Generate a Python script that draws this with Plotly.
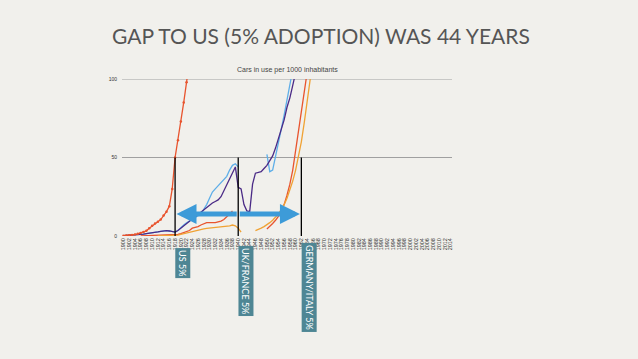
import plotly.graph_objects as go

# ---------------- data ----------------
tick_years = list(range(1900, 2015, 2))
tick_labels = [str(y) for y in tick_years]
y_ticks = [0, 50, 100]

us_years = list(range(1900, 1924))
us_vals = [0.2, 0.3, 0.5, 0.7, 1.0, 1.4, 1.9, 2.5, 3.3, 5.0, 6.5, 8.0, 9.0, 10.5,
           13.0, 15.5, 19.0, 30.0, 50.0, 61.0, 73.0, 85.0, 98.0, 112.0]

uk_years = list(range(1900, 1960))
uk_vals = [0.2, 0.3, 0.4, 0.5, 0.7, 0.8, 1.0, 1.2, 1.5, 1.7, 2.0, 2.3, 2.6, 3.0, 3.3,
           3.4, 3.2, 2.8, 2.5, 3.5, 5.5, 7.0, 8.5, 9.5, 10.5, 11.5, 12.5, 14.0, 17.0, 20.0,
           24.0, 28.0, 30.0, 32.0, 34.0, 36.0, 38.0, 42.0, 45.0, 46.0, 44.0,
           None, None, None, None, None, None, None, None, None,
           52.0, 41.0, 42.0, 50.0, 59.0, 68.0, 77.0, 86.0, 96.0, 106.0]

fr_years = list(range(1900, 1961))
fr_vals = [0.2, 0.3, 0.4, 0.5, 0.7, 0.8, 1.0, 1.2, 1.5, 1.7, 2.0, 2.3, 2.6, 3.0, 3.3,
           3.4, 3.2, 2.8, 2.5, 3.5, 5.0, 6.5, 8.0, 9.5, 11.0, 12.5, 14.0, 15.5, 17.0, 18.5,
           20.0, 21.0, 22.0, 23.0, 25.0, 29.0, 33.0, 36.0, 40.0, 44.0, 31.0, 30.0, 20.0,
           16.0, 15.5, 33.0, 40.0, 40.5, 41.0, 43.0, 45.0, 48.0, 51.0, 56.0, 62.0, 68.0,
           74.0, 82.0, 88.0, 96.0, 104.0]

de_years = list(range(1906, 1965))
de_vals = [0.1, 0.15, 0.2, 0.3, 0.4, 0.5, 0.7, 0.8, 0.9, 0.9, 0.8, 0.8, 0.8, 1.0,
           1.5, 2.0, 2.5, 3.5, 5.0, 5.5, 6.0, 7.0, 8.0, 8.5, 8.5, 8.5, 8.5, 9.0, 9.5,
           10.5, 12.0, 14.0, 16.0,
           None, None, None, None, None, None, None, None, None, None, None,
           4.5, 6.0, 8.0, 10.0, 12.5, 16.0, 20.0, 26.0, 33.0, 42.0, 54.0, 66.0, 80.0,
           92.0, 104.0]

it_years = list(range(1912, 1967))
it_vals = [0.1, 0.15, 0.2, 0.25, 0.3, 0.35, 0.4, 0.6, 1.0, 1.5, 2.0, 2.5, 3.0, 3.4,
           3.8, 4.2, 4.5, 4.8, 5.0, 5.1, 5.2, 5.3, 5.5, 5.8, 6.0, 6.5, 7.0, 6.5, 5.0, 2.5,
           None, None, None, None,
           3.4, 4.0, 5.0, 6.0, 7.0, 8.5, 10.0, 12.0, 14.0, 17.0, 20.0, 24.0, 29.0, 35.0,
           42.0, 50.0, 60.0, 72.0, 85.0, 99.0, 112.0]

milestone_years = [1918, 1940, 1962]
milestone_level = 50
milestone_labels = ["US 5%", "UK/FRANCE 5%", "GERMANY/ITALY 5%"]
label_centers_y = [-0.17, -0.285, -0.33]
arrow_level = 14

BG = "#f1f0ec"
fig = go.Figure()

fig.add_trace(go.Scatter(x=uk_years, y=uk_vals, mode="lines",
                         line=dict(color="#5eaee8", width=1.3), connectgaps=False))
fig.add_trace(go.Scatter(x=fr_years, y=fr_vals, mode="lines",
                         line=dict(color="#4a2a86", width=1.3), connectgaps=False))
fig.add_trace(go.Scatter(x=de_years, y=de_vals, mode="lines",
                         line=dict(color="#e8542e", width=1.3), connectgaps=False))
fig.add_trace(go.Scatter(x=it_years, y=it_vals, mode="lines",
                         line=dict(color="#f0a234", width=1.3), connectgaps=False))
fig.add_trace(go.Scatter(x=us_years, y=us_vals, mode="lines+markers",
                         line=dict(color="#e8542e", width=1.3),
                         marker=dict(size=2.5, color="#e8542e")))

# top gridline (plotly does not draw a gridline on the range edge)
fig.add_shape(type="line", x0=0, x1=1, xref="paper", y0=y_ticks[-1], y1=y_ticks[-1],
              yref="y", line=dict(color="#a0a0a0", width=1), layer="below")

for yr in milestone_years:
    fig.add_shape(type="line", x0=yr, x1=yr, y0=0, y1=milestone_level,
                  xref="x", yref="y", line=dict(color="black", width=1.3))

# double-headed arrow
mid = (milestone_years[0] + milestone_years[2]) / 2
for tip in [milestone_years[0] + 0.5, milestone_years[2] - 0.5]:
    fig.add_annotation(x=tip, y=arrow_level, ax=mid, ay=arrow_level, xref="x", yref="y",
                       axref="x", ayref="y", showarrow=True, arrowhead=2,
                       arrowsize=0.8, arrowwidth=5, arrowcolor="#3d9bd8", text="")

for yr, lab, cy in zip(milestone_years, milestone_labels, label_centers_y):
    fig.add_annotation(x=yr, y=cy, xref="x", yref="paper", text=lab, showarrow=False,
                       textangle=90, xanchor="left", yanchor="middle",
                       font=dict(family="Lato", size=9, color="white"),
                       bgcolor="#4e8694", borderpad=1.5)

fig.add_annotation(x=0.5, y=1.057, xref="paper", yref="paper", yanchor="middle",
                   text="Cars in use per 1000 inhabitants", showarrow=False,
                   font=dict(family="Liberation Sans", size=7, color="#444"))

fig.update_layout(
    width=638, height=359,
    margin=dict(l=122, r=186, t=79, b=123),
    paper_bgcolor=BG, plot_bgcolor=BG,
    showlegend=False,
    title=dict(text="GAP TO US (5% ADOPTION) WAS 44 YEARS", x=112/638, xanchor="left",
               y=1 - 37/359, yanchor="middle",
               font=dict(family="Lato", size=21, color="#555")),
    xaxis=dict(range=[1899.5, 2014.5], tickmode="array", tickvals=tick_years,
               ticktext=tick_labels, tickangle=-90, automargin=False,
               tickfont=dict(family="Liberation Sans", size=5.5, color="#333"),
               showgrid=False, zeroline=False, showline=False, ticks=""),
    yaxis=dict(range=[0, 100], tickvals=y_ticks, automargin=False,
               tickfont=dict(family="Liberation Sans", size=5, color="#333"),
               showgrid=True, gridcolor="#a0a0a0", gridwidth=1, zeroline=False,
               showline=False, ticks="", ticklabelstandoff=4),
)

fig.write_html("out.html", config={"displayModeBar": False},
               post_script="document.body.style.margin='0';document.body.style.background='%s';" % BG)
